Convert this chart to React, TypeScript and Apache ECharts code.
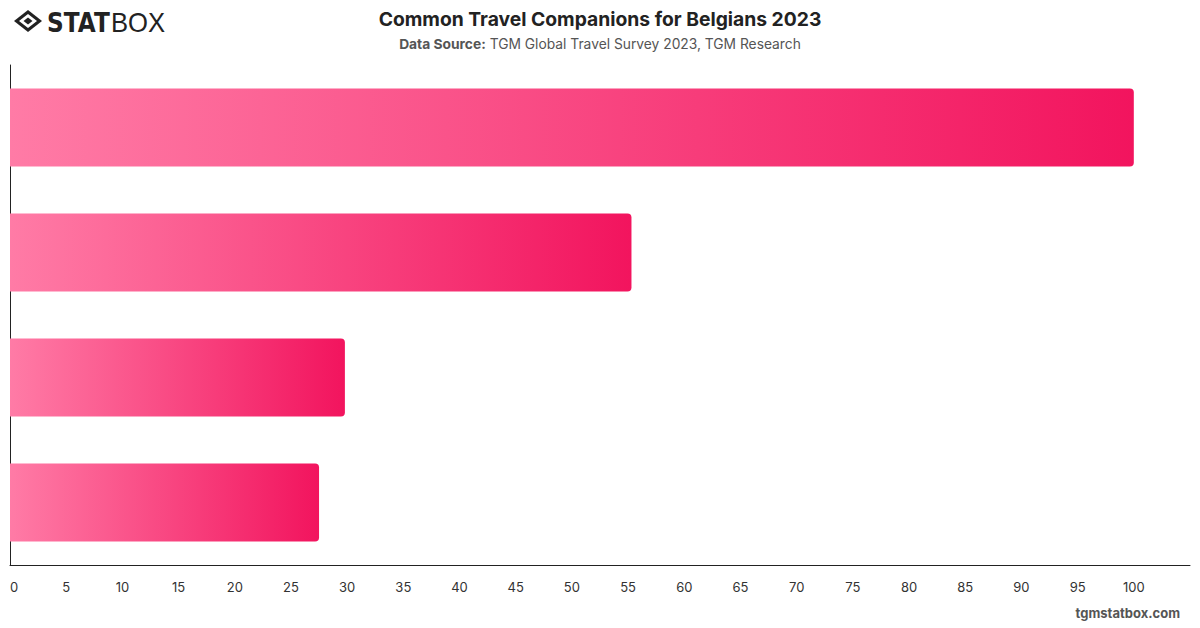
import React, { useEffect, useRef } from "react";
import * as echarts from "echarts";

const categories = ["Partner / Spouse", "Family", "Friends", "Alone"];
const values = [100, 55.3, 29.8, 27.5];
const xMin = 0;
const xMax = 105;
const xInterval = 5;

export default function App() {
  const ref = useRef<HTMLDivElement>(null);

  useEffect(() => {
    if (!ref.current) return;
    const chart = echarts.init(ref.current, null, { renderer: "svg" });
    const font = "Inter, 'Noto Sans', sans-serif";
    chart.setOption({
      animation: false,
      backgroundColor: "#ffffff",
      title: {
        text: "Common Travel Companions for Belgians 2023",
        left: "center",
        top: 4,
        textStyle: { fontFamily: font, fontSize: 19.3, fontWeight: "bold", color: "#222222" },
        subtext: "{b|Data Source:} TGM Global Travel Survey 2023, TGM Research",
        subtextStyle: {
          fontFamily: font,
          fontSize: 13.8,
          color: "#555555",
          rich: {
            b: { fontFamily: font, fontSize: 13.8, fontWeight: "bold", color: "#555555" },
          },
        },
        itemGap: 9,
      },
      grid: { left: 10, right: 10, top: 65, bottom: 63, containLabel: false },
      xAxis: {
        type: "value",
        min: xMin,
        max: xMax,
        interval: xInterval,
        axisLine: { show: true, lineStyle: { color: "#222222", width: 1 } },
        axisTick: { show: false },
        splitLine: { show: false },
        axisLabel: {
          fontFamily: font,
          fontSize: 13,
          color: "#333333",
          margin: 15,
          showMaxLabel: false,
          alignMinLabel: "left",
        },
      },
      yAxis: {
        type: "category",
        data: categories,
        inverse: true,
        axisLine: { show: true, lineStyle: { color: "#222222", width: 1 } },
        axisTick: { show: false },
        axisLabel: { show: false },
      },
      series: [
        {
          type: "bar",
          data: values,
          barWidth: 78,
          itemStyle: {
            borderRadius: [0, 4, 4, 0],
            color: new echarts.graphic.LinearGradient(0, 0, 1, 0, [
              { offset: 0, color: "#ff7ba6" },
              { offset: 1, color: "#f2145e" },
            ]),
          },
        },
      ],
      graphic: [
        {
          type: "group",
          left: 14,
          top: 10,
          children: [
            {
              type: "polygon",
              shape: { points: [[14, 0], [28, 11], [14, 22], [0, 11]] },
              style: { fill: "#222222" },
            },
            {
              type: "polygon",
              shape: { points: [[14, 4], [23, 11], [14, 18], [5, 11]] },
              style: { fill: "#ffffff" },
            },
            {
              type: "polygon",
              shape: { points: [[14, 7.5], [18.5, 11], [14, 14.5], [9.5, 11]] },
              style: { fill: "#222222" },
            },
          ],
        },
        {
          type: "text",
          left: 47,
          top: 9,
          style: {
            text: "STAT",
            fontFamily: "'DejaVu Sans', sans-serif",
            fontSize: 27,
            fontWeight: 900,
            fill: "#222222",
          },
          scaleX: 0.86,
        },
        {
          type: "text",
          left: 111,
          top: 9,
          style: {
            text: "BOX",
            fontFamily: "'Liberation Sans', sans-serif",
            fontSize: 27,
            fontWeight: "normal",
            fill: "#222222",
          },
          scaleX: 0.95,
        },
        {
          type: "text",
          right: 20,
          top: 606,
          style: {
            text: "tgmstatbox.com",
            fontFamily: font,
            fontSize: 13,
            fontWeight: "bold",
            fill: "#555555",
          },
        },
      ],
    });
    return () => chart.dispose();
  }, []);

  return (
    <div
      ref={ref}
      style={{ position: "fixed", left: 0, top: 0, width: 1200, height: 628 }}
    />
  );
}
